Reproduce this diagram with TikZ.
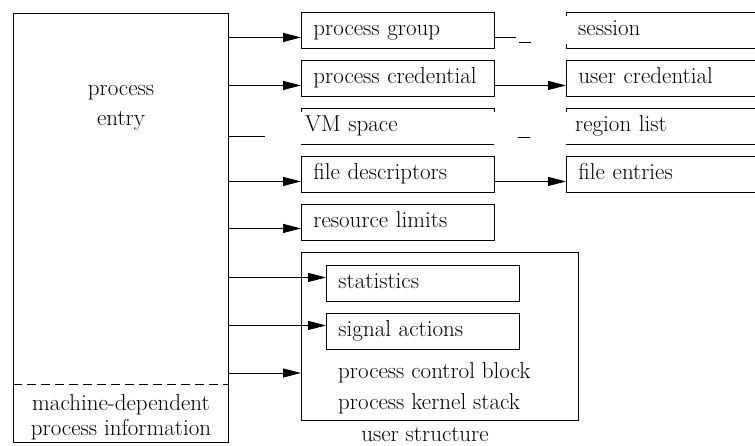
\documentclass[tikz,border=0pt]{standalone}
\usetikzlibrary{arrows.meta}
\begin{document}
\begin{tikzpicture}[x=1pt,y=-1pt,
  every node/.style={font=\rmfamily\fontsize{23}{28}\selectfont},
  plain/.style={line width=0.9pt},
  mbox/.style={draw, line width=0.9pt, anchor=north west, minimum height=36pt,
    inner xsep=12pt, inner ysep=0pt, text width=#1, align=left,
    text height=16pt, text depth=5pt},
  mbox/.default=169pt,
  tbox/.style={anchor=north west, minimum height=36pt,
    inner xsep=12pt, inner ysep=0pt, text width=#1, align=left,
    text height=16pt, text depth=5pt},
  tbox/.default=169pt,
  arr/.style={line width=0.9pt, -{Triangle[length=18pt,width=9pt]}}]
\useasboundingbox (0,0) rectangle (755,445);
\clip (0,0) rectangle (755,445);

% left process entry box
\node[draw, plain, anchor=north west, minimum width=215pt, minimum height=429pt, inner sep=0pt] (pe) at (13,13) {};
\node[align=center, inner sep=0pt, font=\rmfamily\fontsize{23}{30}\selectfont] (pel) at (121,108) {process\\entry};
\coordinate (dashL) at (13,384);
\coordinate (dashR) at (228,384);
\draw[plain, dash pattern=on 9pt off 5pt] (dashL) -- (dashR);
\node[align=center, inner sep=0pt, font=\rmfamily\fontsize{23}{25}\selectfont] (md) at (121,417) {machine-dependent\\process information};

% middle column
\node[mbox] (pg) at (301,12) {process group};
\node[mbox] (pcr) at (301,60) {process credential};
\node[tbox=185pt, inner xsep=4pt] (vm) at (301,108) {VM space};
\node[mbox] (fd) at (301,156) {file descriptors};
\node[mbox] (rl) at (301,204) {resource limits};

\draw[plain] (vm.north west) -- (vm.north east);
\draw[plain] (vm.south west) -- (vm.south east);
\draw[plain] (vm.north west) -- ++(0,4);
\draw[plain] (vm.north east) -- ++(0,4);

% right column
\node[tbox=196pt] (ses) at (566,12) {session};
\node[mbox=196pt] (uc) at (566,60) {user credential};
\node[tbox=196pt, inner xsep=9pt] (rg) at (566,108) {region list};
\node[mbox=196pt] (fe) at (566,156) {file entries};

\draw[plain] (ses.north west) -- (ses.north east);
\draw[plain] (ses.south west) -- (ses.south east);
\draw[plain] (ses.north west) -- ++(0,4);
\draw[plain] (ses.south west) -- ++(0,-4);
\draw[plain] (rg.north west) -- (rg.north east);
\draw[plain] (rg.south west) -- (rg.south east);
\draw[plain] (rg.north west) -- ++(0,4);

% user structure
\node[draw, plain, anchor=north west, minimum width=277pt, minimum height=168pt, inner sep=0pt] (us) at (301,252) {};
\node[mbox] (st) at (326,265) {statistics};
\node[mbox] (sa) at (326,313) {signal actions};
\node[anchor=west, inner sep=0pt] (pcb) at (338,373) {process control block};
\node[anchor=west, inner sep=0pt] (pks) at (338,404) {process kernel stack};
\node[inner sep=0pt] (ust) at (425,435) {user structure};

% connectors from process entry
\coordinate (pgA) at ([yshift=-7pt]pg.west);
\coordinate (pcA) at ([yshift=-7pt]pcr.west);
\coordinate (vmA) at ([yshift=-10pt]vm.west);
\coordinate (fdA) at ([yshift=-7pt]fd.west);
\coordinate (rlA) at ([yshift=-6pt]rl.west);
\coordinate (stA) at ([yshift=6pt]st.west);
\coordinate (saA) at ([yshift=6pt]sa.west);
\coordinate (usA) at (us.west |- pcb);

\draw[arr] (pe.east |- pgA) -- (pgA);
\draw[arr] (pe.east |- pcA) -- (pcA);
\draw[plain] (pe.east |- vmA) -- ++(36,0);
\draw[arr] (pe.east |- fdA) -- (fdA);
\draw[arr] (pe.east |- rlA) -- (rlA);
\draw[arr] (pe.east |- stA) -- (stA);
\draw[arr] (pe.east |- saA) -- (saA);
\draw[arr] (pe.east |- usA) -- (usA);

% middle to right
\coordinate (sgA) at ([yshift=-7pt]pg.east);
\draw[plain] (sgA) -- ++(21,0);
\coordinate (sgD) at ([xshift=24pt,yshift=-5pt]sgA);
\draw[plain] (sgD) -- ++(12,0);
\coordinate (vmD) at ([xshift=217pt,yshift=-1pt]vmA);
\draw[plain] (vmD) -- ++(12,0);
\coordinate (ucA) at ([yshift=-7pt]uc.west);
\coordinate (feA) at ([yshift=-7pt]fe.west);
\draw[arr] (pcr.east |- ucA) -- (ucA);
\draw[arr] (fd.east |- feA) -- (feA);
\end{tikzpicture}
\end{document}
